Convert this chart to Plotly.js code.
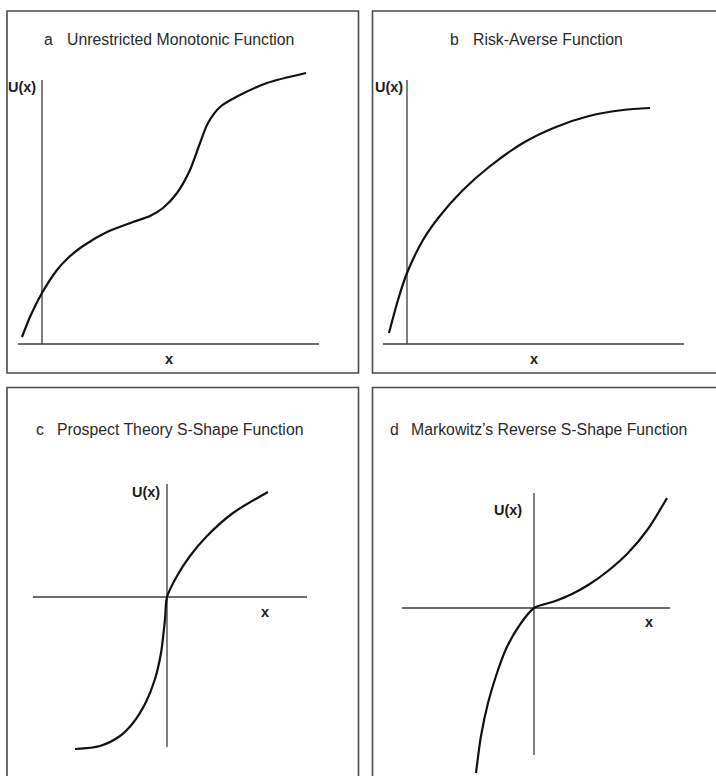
<!DOCTYPE html>
<html><head><meta charset="utf-8">
<script src="https://cdn.plot.ly/plotly-3.0.1.min.js"></script>
<style>html,body{margin:0;padding:0;background:#fff}</style>
</head><body><div id="chart" style="width:716px;height:776px"></div>
<script>
// ---- data (units: offsets from each panel's axis origin; y up) ----
const panelLetters = ['a', 'b', 'c', 'd'];
const panelTitles = ['Unrestricted Monotonic Function', 'Risk-Averse Function',
  'Prospect Theory S-Shape Function', 'Markowitz\u2019s Reverse S-Shape Function'];
const yAxisLabel = 'U(x)';
const xAxisLabel = 'x';

const curveAx = [-20, -12, 0, 15, 26, 41, 65, 91, 108, 121, 135, 148, 158, 166, 178, 198, 225, 264];
const curveAy = [7, 27, 51, 74, 86, 98, 112, 122, 128, 136, 151, 174, 201, 221, 237, 249, 261, 271];

const curveBx = [-18, -9, 0, 16, 32, 56, 82, 116, 149, 182, 216, 243];
const curveBy = [11, 44, 71, 104, 127, 154, 177, 201, 217, 228, 234, 236];

const curveCx = [-92, -67, -47, -34, -21, -12, -6, -2, 0, 10, 23, 40, 66, 101];
const curveCy = [-152, -149, -139, -126, -105, -82, -56, -22, 0, 21, 41, 61, 84, 105];

const curveDx = [-58, -53, -46, -38, -28, -15, 0, 20, 38, 55, 72, 94, 114, 133];
const curveDy = [-165, -128, -95, -68, -41, -18, 0, 6.5, 14, 23.5, 35.5, 55, 79, 110];

// axis-line extents per panel: [xmin, xmax] for the x axis, [ymin, ymax] for the U(x) axis
const xAxisExtA = [-24, 277], yAxisExtA = [0, 264];
const xAxisExtB = [-24, 277], yAxisExtB = [0, 264];
const xAxisExtC = [-134, 140], yAxisExtC = [-150, 113];
const xAxisExtD = [-132, 136], yAxisExtD = [-147, 115];

// ---- layout geometry (pixels) ----
const W = 716, H = 776;
const panels = [
  {box: [7, 11, 358.5, 373], origin: [42, 344], cx: curveAx, cy: curveAy, xe: xAxisExtA, ye: yAxisExtA,
   letterX: 42, titleX: 65, titleY: 39, ulab: [-4, 257], xlab: [127, -15]},
  {box: [372.5, 11, 720, 373], origin: [407, 344], cx: curveBx, cy: curveBy, xe: xAxisExtB, ye: yAxisExtB,
   letterX: 448, titleX: 471, titleY: 39, ulab: [-2, 257], xlab: [127, -15]},
  {box: [7, 387.5, 358.5, 780], origin: [167, 597], cx: curveCx, cy: curveCy, xe: xAxisExtC, ye: yAxisExtC,
   letterX: 34, titleX: 55, titleY: 429, ulab: [-5, 105], xlab: [98, -15]},
  {box: [372.5, 387.5, 720, 780], origin: [534, 608], cx: curveDx, cy: curveDy, xe: xAxisExtD, ye: yAxisExtD,
   letterX: 388, titleX: 409, titleY: 429, ulab: [-10, 98], xlab: [115, -14]}
];

const FONT = 'Liberation Sans, Arial, Helvetica, sans-serif';
const traces = [], shapes = [], annotations = [];
const layout = {
  width: W, height: H, margin: {l: 0, r: 0, t: 0, b: 0},
  paper_bgcolor: '#fff', plot_bgcolor: 'rgba(0,0,0,0)', showlegend: false,
  font: {family: FONT}
};

panels.forEach((p, i) => {
  const n = i === 0 ? '' : String(i + 1);
  const xa = 'x' + n, ya = 'y' + n;
  const [bx0, by0, bx1, by1] = p.box;
  const [ox, oy] = p.origin;
  const cx1 = Math.min(bx1, W), cy1 = Math.min(by1, H);
  layout['xaxis' + n] = {domain: [bx0 / W, cx1 / W], range: [bx0 - ox, cx1 - ox], visible: false,
    fixedrange: true, anchor: ya};
  layout['yaxis' + n] = {domain: [1 - cy1 / H, 1 - by0 / H], range: [oy - cy1, oy - by0], visible: false,
    fixedrange: true, anchor: xa};

  // axis lines
  traces.push({x: p.xe, y: [0, 0], xaxis: xa, yaxis: ya, mode: 'lines',
    line: {color: '#3a3a3a', width: 1.3}, hoverinfo: 'skip'});
  traces.push({x: [0, 0], y: p.ye, xaxis: xa, yaxis: ya, mode: 'lines',
    line: {color: '#3a3a3a', width: 1.3}, hoverinfo: 'skip'});
  // curve
  traces.push({x: p.cx, y: p.cy, xaxis: xa, yaxis: ya, mode: 'lines',
    line: {color: '#111', width: 2.2, shape: 'spline', smoothing: 0.8}, hoverinfo: 'skip'});

  // box border
  shapes.push({type: 'rect', xref: 'paper', yref: 'paper', x0: bx0 / W, x1: bx1 / W,
    y0: 1 - by1 / H, y1: 1 - by0 / H, line: {color: '#4a4a4a', width: 1.6}, fillcolor: 'rgba(0,0,0,0)'});

  // title: letter + text
  annotations.push({xref: 'paper', yref: 'paper', x: p.letterX / W, y: 1 - p.titleY / H,
    xanchor: 'left', yanchor: 'middle', showarrow: false, text: panelLetters[i],
    font: {family: FONT, size: 15.8, color: '#2a2a2a'}});
  annotations.push({xref: 'paper', yref: 'paper', x: p.titleX / W, y: 1 - p.titleY / H,
    xanchor: 'left', yanchor: 'middle', showarrow: false, text: panelTitles[i],
    font: {family: FONT, size: 15.8, color: '#2a2a2a'}});
  // axis labels
  annotations.push({xref: xa, yref: ya, x: p.ulab[0], y: p.ulab[1], xanchor: 'right', yanchor: 'middle',
    showarrow: false, text: '<b>' + yAxisLabel + '</b>', font: {family: FONT, size: 14.5, color: '#1a1a1a'}});
  annotations.push({xref: xa, yref: ya, x: p.xlab[0], y: p.xlab[1], xanchor: 'center', yanchor: 'middle',
    showarrow: false, text: '<b>' + xAxisLabel + '</b>', font: {family: FONT, size: 14.5, color: '#1a1a1a'}});
});

layout.shapes = shapes;
layout.annotations = annotations;
Plotly.newPlot('chart', traces, layout, {displayModeBar: false, staticPlot: true});
</script>
</body></html>
